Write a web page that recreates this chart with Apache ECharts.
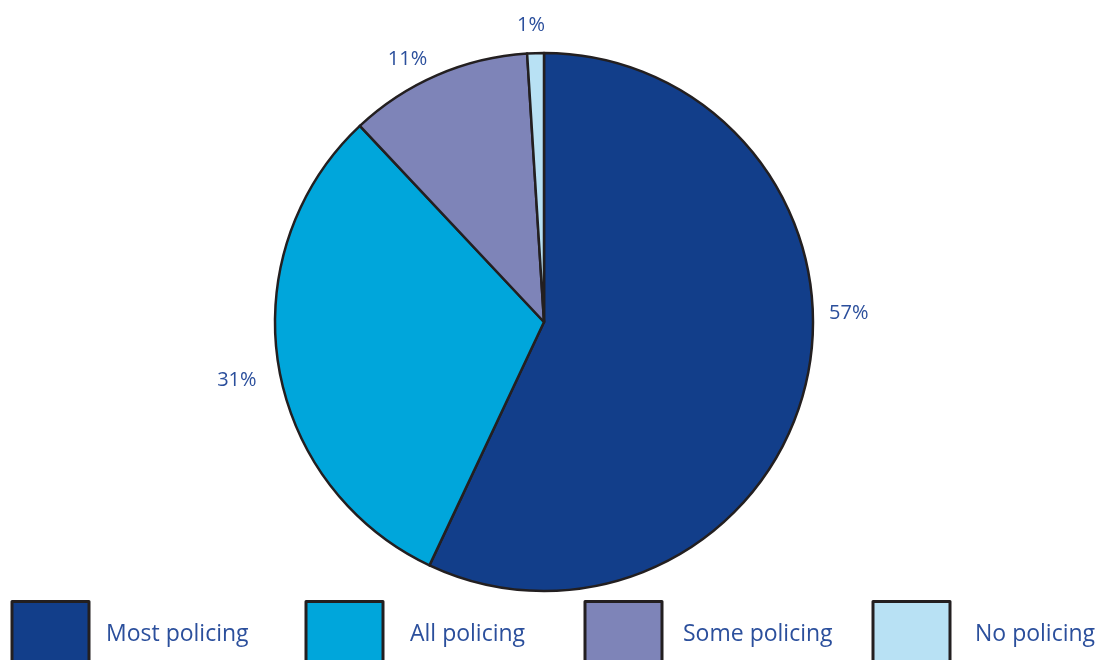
<!DOCTYPE html>
<html>
<head>
<meta charset="utf-8">
<script src="https://cdn.jsdelivr.net/npm/echarts@6/dist/echarts.min.js"></script>
<style>
  html, body { margin: 0; padding: 0; background: #ffffff; }
  #chart { width: 1099px; height: 660px; }
</style>
</head>
<body>
<div id="chart"></div>
<script>
// Share of respondents by amount of policing
const categories = ['Most policing', 'All policing', 'Some policing', 'No policing'];
const shares = [57, 31, 11, 1];
const colors = ['#123e8a', '#00a6db', '#7e84b8', '#b8e1f4'];

// fine label nudges (dx, dy) for each slice label
const labelNudges = [[-2, -72], [3, 13], [3, 3], [15, -8]];
// left edge of each legend entry and the gap between its swatch and text
const legendLefts = [10.5, 304.5, 583.5, 871.5];
const legendTextGaps = [12, 22, 16, 20];

const textColor = '#2b4f9c';
const edgeColor = '#231f20';

const chart = echarts.init(document.getElementById('chart'), null, { renderer: 'canvas' });

const legends = categories.map((name, i) => ({
  data: [name],
  left: legendLefts[i],
  top: 600,
  padding: 0,
  orient: 'horizontal',
  itemWidth: 77,
  itemHeight: 66,
  icon: 'rect',
  selectedMode: false,
  itemStyle: { borderColor: edgeColor, borderWidth: 3 },
  textStyle: {
    color: textColor,
    fontSize: 23,
    fontFamily: 'Open Sans',
    padding: [0, 0, 0, legendTextGaps[i]]
  }
}));

chart.setOption({
  backgroundColor: '#ffffff',
  animation: false,
  legend: legends,
  series: [{
    type: 'pie',
    center: [544, 322],
    radius: 269,
    startAngle: 90,
    clockwise: true,
    avoidLabelOverlap: false,
    data: categories.map((name, i) => ({
      name,
      value: shares[i],
      itemStyle: { color: colors[i] }
    })),
    itemStyle: { borderColor: edgeColor, borderWidth: 2.5 },
    label: {
      show: true,
      position: 'outside',
      formatter: p => p.value + '%',
      color: textColor,
      fontSize: 20,
      fontFamily: 'Open Sans'
    },
    labelLine: { show: false, length: 20, length2: 0 },
    labelLayout: p => ({ dx: labelNudges[p.dataIndex][0], dy: labelNudges[p.dataIndex][1] }),
    emphasis: { disabled: true }
  }]
});
</script>
</body>
</html>
